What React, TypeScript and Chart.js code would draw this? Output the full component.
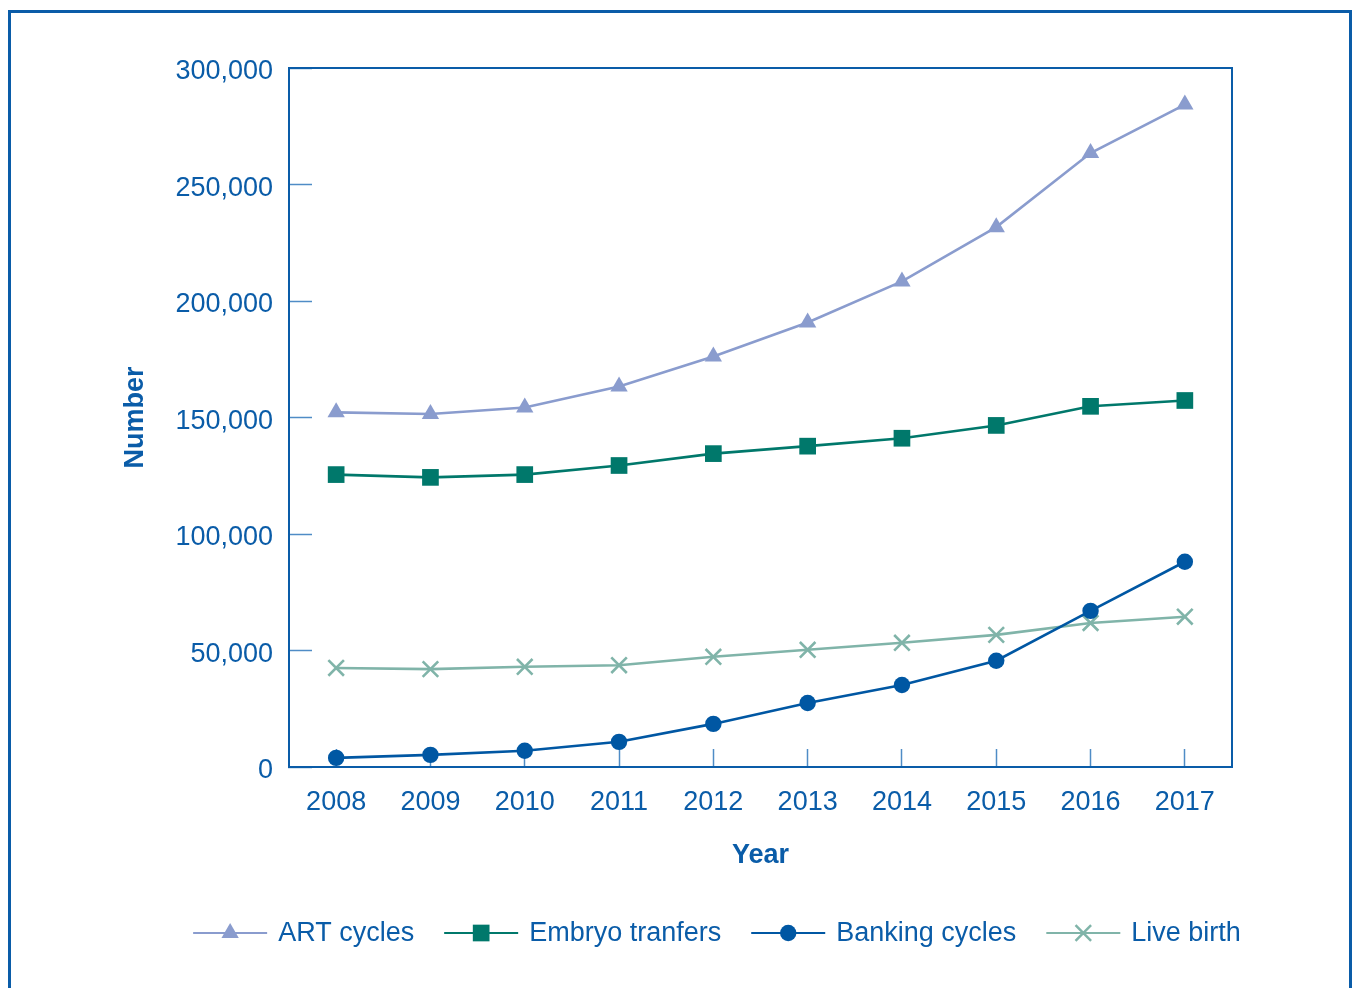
import React, { useEffect, useRef } from "react";
import { Chart, registerables } from "chart.js";

Chart.register(...registerables);

const years = ["2008", "2009", "2010", "2011", "2012", "2013", "2014", "2015", "2016", "2017"];
const artCycles = [152200, 151500, 154300, 163300, 176200, 190800, 208400, 231700, 263500, 284300];
const embryoTransfers = [125500, 124300, 125500, 129400, 134500, 137700, 141100, 146600, 154800, 157300];
const bankingCycles = [3900, 5200, 7000, 10800, 18500, 27500, 35200, 45600, 67000, 88100];
const liveBirth = [42500, 42000, 43000, 43700, 47300, 50300, 53300, 56700, 61800, 64500];
const yTicks = [0, 50000, 100000, 150000, 200000, 250000, 300000];

const TEXT = "#0A5CA8";
const AXIS = "#0A5CA8";
const TICK = "#4F8CC6";
const FONT = "'Liberation Sans', Arial, Helvetica, sans-serif";

const seriesStyle = [
  { label: "ART cycles", data: artCycles, color: "#8A9CCE", style: "triangle", radius: 10 },
  { label: "Embryo tranfers", data: embryoTransfers, color: "#00786B", style: "rect", radius: 11.8 },
  { label: "Banking cycles", data: bankingCycles, color: "#0057A3", style: "circle", radius: 8.2 },
  { label: "Live birth", data: liveBirth, color: "#80B4A9", style: "crossRot", radius: 11 },
];

function drawMarker(ctx: CanvasRenderingContext2D, style: string, x: number, y: number, r: number, color: string) {
  ctx.save();
  ctx.fillStyle = color;
  ctx.strokeStyle = color;
  ctx.beginPath();
  if (style === "triangle") {
    const a = -Math.PI / 2;
    for (let i = 0; i < 3; i++) {
      const ang = a + (i * 2 * Math.PI) / 3;
      const px = x + Math.cos(ang) * r;
      const py = y + Math.sin(ang) * r;
      if (i === 0) ctx.moveTo(px, py);
      else ctx.lineTo(px, py);
    }
    ctx.closePath();
    ctx.fill();
  } else if (style === "rect") {
    const s = Math.SQRT1_2 * r;
    ctx.rect(x - s, y - s, 2 * s, 2 * s);
    ctx.fill();
  } else if (style === "circle") {
    ctx.arc(x, y, r, 0, Math.PI * 2);
    ctx.fill();
  } else if (style === "crossRot") {
    const o = Math.SQRT1_2 * r;
    ctx.lineWidth = 2.5;
    ctx.moveTo(x - o, y - o);
    ctx.lineTo(x + o, y + o);
    ctx.moveTo(x - o, y + o);
    ctx.lineTo(x + o, y - o);
    ctx.stroke();
  }
  ctx.restore();
}

const frameBoxPlugin = {
  id: "frameBox",
  afterDraw(chart: any) {
    const { ctx, chartArea } = chart;
    ctx.save();
    ctx.strokeStyle = AXIS;
    ctx.lineWidth = 2;
    ctx.beginPath();
    ctx.moveTo(chartArea.left, chartArea.top);
    ctx.lineTo(chartArea.right, chartArea.top);
    ctx.lineTo(chartArea.right, chartArea.bottom);
    ctx.stroke();
    ctx.restore();
  },
};

const customLegendPlugin = {
  id: "customLegend",
  afterDraw(chart: any) {
    const ctx: CanvasRenderingContext2D = chart.ctx;
    const centerX = 717;
    const y = 933;
    const lineLen = 74;
    const textGap = 11;
    const itemGap = 30;
    ctx.save();
    ctx.font = `27px ${FONT}`;
    const widths = seriesStyle.map((s) => lineLen + textGap + ctx.measureText(s.label).width);
    const total = widths.reduce((a, b) => a + b, 0) + itemGap * (widths.length - 1);
    let x = centerX - total / 2;
    seriesStyle.forEach((s, i) => {
      ctx.strokeStyle = s.color;
      ctx.lineWidth = 2.2;
      ctx.beginPath();
      ctx.moveTo(x, y);
      ctx.lineTo(x + lineLen, y);
      ctx.stroke();
      drawMarker(ctx, s.style, x + lineLen / 2, y, s.radius, s.color);
      ctx.fillStyle = TEXT;
      ctx.textBaseline = "middle";
      ctx.textAlign = "left";
      ctx.fillText(s.label, x + lineLen + textGap, y + 1);
      x += widths[i] + itemGap;
    });
    ctx.restore();
  },
};

export default function App() {
  const canvasRef = useRef<HTMLCanvasElement | null>(null);

  useEffect(() => {
    if (!canvasRef.current) return;
    const chart = new Chart(canvasRef.current, {
      type: "line",
      data: {
        labels: years,
        datasets: seriesStyle.map((s) => ({
          label: s.label,
          data: s.data,
          borderColor: s.color,
          backgroundColor: s.color,
          borderWidth: 2.6,
          pointStyle: s.style as any,
          pointRadius: s.radius,
          pointHoverRadius: s.radius,
          pointBackgroundColor: s.color,
          pointBorderColor: s.color,
          pointBorderWidth: s.style === "crossRot" ? 2.6 : 0,
          tension: 0,
          fill: false,
          clip: false as any,
        })),
      },
      plugins: [frameBoxPlugin, customLegendPlugin],
      options: {
        responsive: false,
        animation: false,
        layout: { padding: { left: 119, right: 121, top: 68, bottom: 116 } },
        plugins: {
          legend: { display: false },
          tooltip: { enabled: false },
          title: { display: false },
        },
        scales: {
          x: {
            type: "category",
            offset: true,
            border: { display: true, color: AXIS, width: 2 },
            grid: {
              display: true,
              drawOnChartArea: false,
              drawTicks: true,
              tickLength: -18,
              tickColor: TICK,
              tickWidth: 1.5,
              offset: false,
            },
            ticks: {
              color: TEXT,
              padding: 37,
              font: { family: FONT, size: 27 },
              maxRotation: 0,
              autoSkip: false,
            },
            title: {
              display: true,
              text: "Year",
              color: TEXT,
              font: { family: FONT, size: 27, weight: "bold" },
              padding: { top: 0, bottom: 0 },
            },
            afterFit(scale: any) {
              scale.height = 105;
            },
          },
          y: {
            min: 0,
            max: 300000,
            border: { display: true, color: AXIS, width: 2 },
            grid: {
              display: true,
              drawOnChartArea: false,
              drawTicks: true,
              tickLength: -23,
              tickColor: TICK,
              tickWidth: 1.5,
            },
            afterBuildTicks(scale: any) {
              scale.ticks = yTicks.map((v) => ({ value: v }));
            },
            ticks: {
              color: TEXT,
              padding: 39,
              labelOffset: 4,
              font: { family: FONT, size: 27 },
              callback: (v: any) => Number(v).toLocaleString("en-US"),
            },
            title: {
              display: true,
              text: "Number",
              color: TEXT,
              font: { family: FONT, size: 27, weight: "bold" },
              padding: { top: 0, bottom: 0 },
            },
            afterFit(scale: any) {
              scale.width = 170;
            },
          },
        },
      },
    });
    return () => chart.destroy();
  }, []);

  return (
    <div style={{ position: "absolute", left: 0, top: 0, width: 1353, height: 988, background: "#fff", overflow: "hidden" }}>
      <div
        style={{
          position: "absolute",
          left: 8,
          top: 10,
          width: 1344,
          height: 978,
          boxSizing: "border-box",
          borderLeft: `3px solid ${AXIS}`,
          borderTop: `3px solid ${AXIS}`,
          borderRight: `3px solid ${AXIS}`,
        }}
      />
      <canvas ref={canvasRef} width={1353} height={988} style={{ position: "absolute", left: 0, top: 0, width: 1353, height: 988 }} />
    </div>
  );
}
